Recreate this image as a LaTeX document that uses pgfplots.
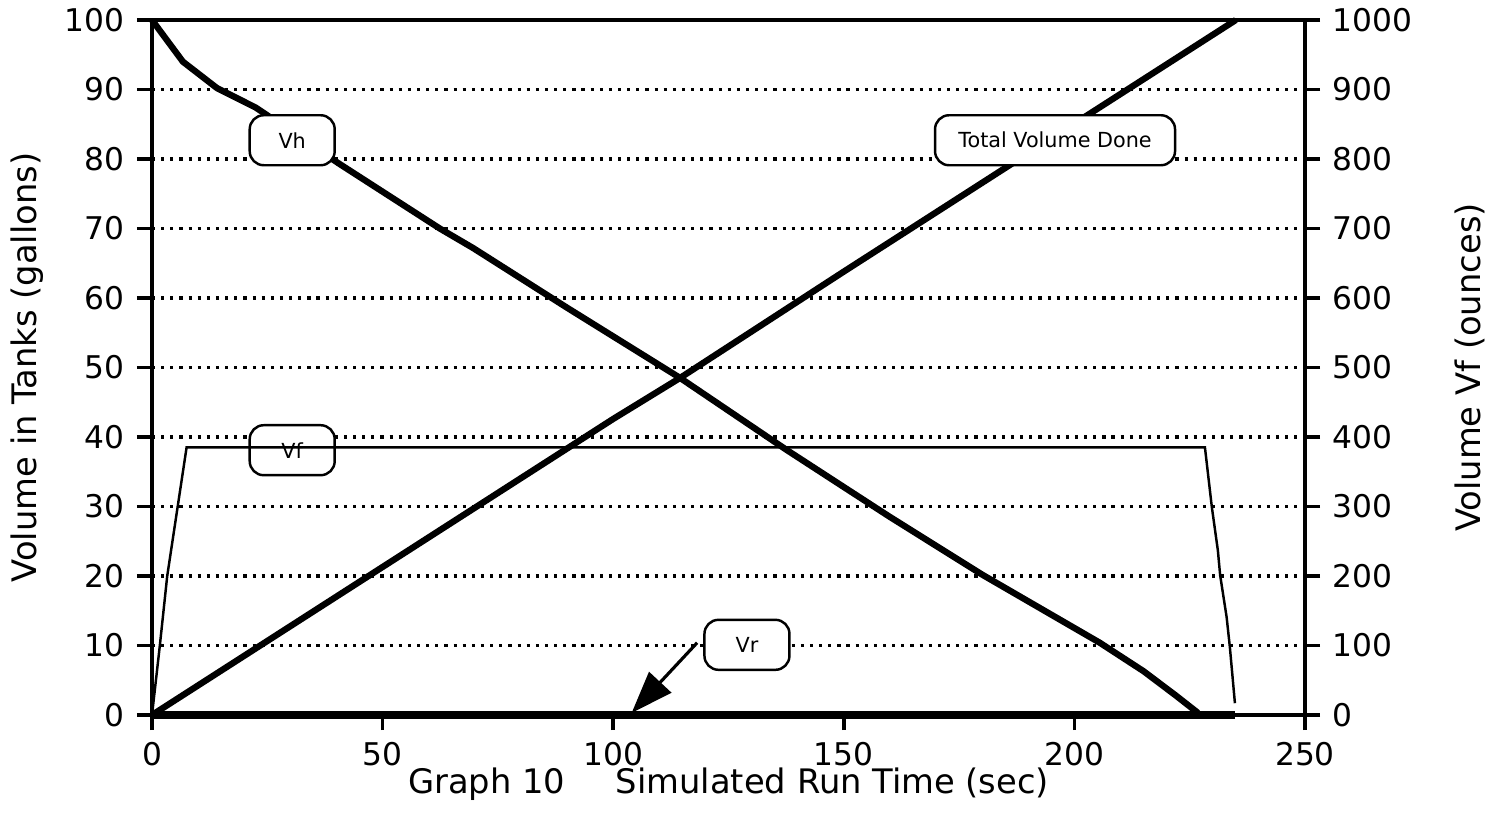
\documentclass[border=0pt]{standalone}
\usepackage{fontspec}
\setmainfont{DejaVu Sans}
\usepackage{pgfplots}
\pgfplotsset{compat=1.18}
\usetikzlibrary{calc,arrows.meta}

\tikzset{
  lbl/.style={draw, fill=white, rounded corners=4pt, line width=0.7pt,
    minimum height=0.5cm, font=\fontsize{5.9}{7}\selectfont},
}
\pgfplotsset{
  common/.style={
    scale only axis, width=11.53cm, height=6.95cm,
    xmin=0, xmax=250,
    tick align=outside, major tick length=0.15cm,
    axis line style={line width=1.2pt},
    tick style={black, line width=1pt},
    ticklabel style={font=\fontsize{8.9}{10}\selectfont},
    label style={font=\fontsize{9.6}{11}\selectfont},
    /pgf/number format/assume math mode=true,
    /pgf/number format/1000 sep={},
  },
}

\begin{document}
\begin{tikzpicture}
\begin{axis}[
  common,
  ymin=0, ymax=100,
  xtick={0,50,...,250}, ytick={0,10,...,100},
  xtick pos=bottom, ytick pos=left,
  ymajorgrids,
  grid style={black, line width=0.9pt, dash pattern=on 0.9pt off 1.7pt},
  xlabel={Graph 10\hspace{1.5em}Simulated Run Time (sec)},
  ylabel={Volume in Tanks (gallons)},
  xlabel style={at={(axis description cs:0.5,-0.100)}, anchor=center},
  ylabel style={at={(axis description cs:-0.108,0.5)}, anchor=center},
  clip=false,
]
\coordinate (sw) at (rel axis cs:0,0);
\coordinate (ne) at (rel axis cs:1,1);
% Vh
\addplot[black, line width=1.8pt] coordinates {
  (0,100)(6.7,94.0)(14.1,90.2)(22.5,87.4)(40.4,79.4)(62.4,70)(69.6,67.2)
  (90,58.6)(114.5,48.5)(137.7,38.1)(150,32.8)(160,28.5)(180,20.2)
  (205.5,10.4)(215,6.3)(222,2.8)(226.8,0.3)};
% Total Volume Done
\addplot[black, line width=1.8pt] coordinates {
  (0,0)(50,21.3)(100,42.6)(114.5,48.5)(150,63.8)(200,85.1)(235,100)};
% Vr
\addplot[black, line width=2pt] coordinates {(0,0)(234.8,0)};

\node[lbl, minimum width=0.85cm] at (axis cs:30.4,82.7) {Vh};
\node[lbl, minimum width=2.4cm] at (axis cs:195.8,82.7) {Total Volume Done};
\node[lbl, minimum width=0.85cm] at (axis cs:30.4,38.1) {Vf};
\node[lbl, minimum width=0.85cm] at (axis cs:129,10.1) {Vr};
\draw[line width=0.9pt, -{Triangle[length=0.42cm,width=0.3cm]}]
  (axis cs:118.2,10.4) -- (axis cs:104,0.3);
\end{axis}

\begin{axis}[
  common,
  ymin=0, ymax=1000,
  axis x line=none, axis y line*=right,
  ytick={0,100,...,1000}, ytick pos=right,
  ylabel={Volume Vf (ounces)},
  ylabel style={at={(axis description cs:1.143,0.5)}, anchor=center},
]
% Vf (ounces)
\addplot[black, line width=0.7pt] coordinates {
  (0,0)(1.7,100)(3.3,200)(7.5,385)(228.3,385)(229.8,299)
  (231.1,237)(231.6,201)(233,141)(233.7,98)(234.8,17)};
\end{axis}

\pgfresetboundingbox
\path ($(sw)+(-1.52cm,-1.07cm)$) rectangle ($(ne)+(1.94cm,0.20cm)$);
\end{tikzpicture}
\end{document}
